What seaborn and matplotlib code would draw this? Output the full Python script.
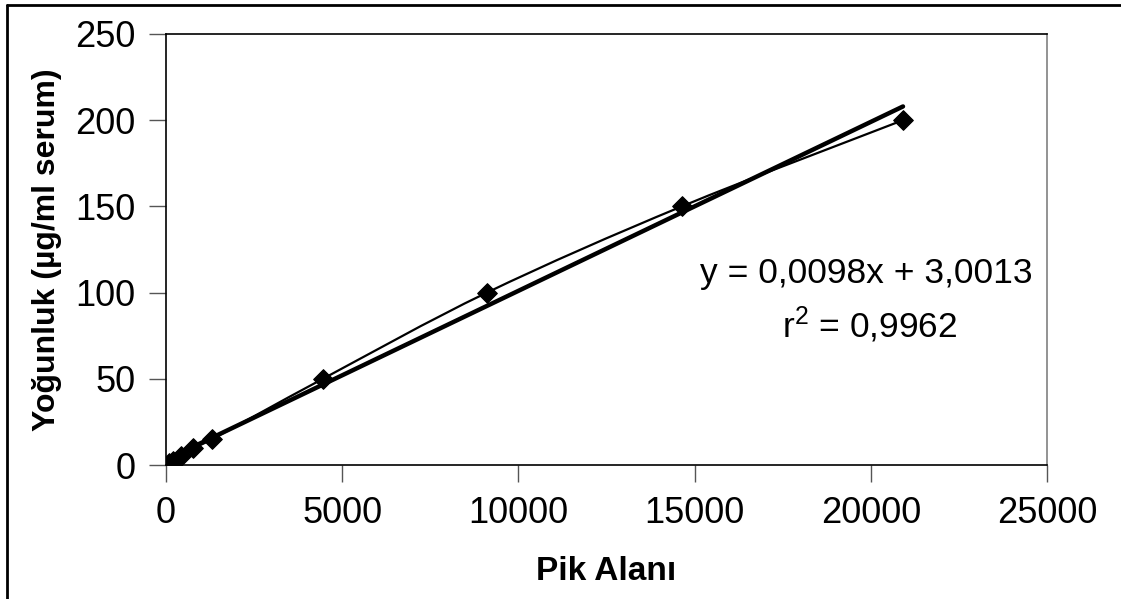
"""
Kalibrasyon egrisi - Pik Alani / Yogunluk
"""

import numpy as np
import pandas as pd
import matplotlib
matplotlib.use('Agg')
import matplotlib.pyplot as plt
from matplotlib.path import Path
from matplotlib.patches import PathPatch
from matplotlib.lines import Line2D
import seaborn as sns

# Veriler
pik_alani = [90, 200, 430, 760, 1310, 4455, 9110, 14640, 20914]
yogunluk = [1, 2.5, 5, 10, 15, 50, 100, 150, 200]
egim = 0.0098
kesisim = 3.0013
denklem = 'y = 0,0098x + 3,0013'
r2_metin = 'r$^2$ = 0,9962'
x_ticks = [0, 5000, 10000, 15000, 20000, 25000]
y_ticks = [0, 50, 100, 150, 200, 250]

sns.set_style('white')
plt.rcParams['font.family'] = ['Liberation Sans', 'DejaVu Sans']
plt.rcParams['mathtext.fontset'] = 'custom'
plt.rcParams['mathtext.rm'] = 'Liberation Sans'
plt.rcParams['mathtext.it'] = 'Liberation Sans'
plt.rcParams['text.color'] = 'black'
plt.rcParams['axes.labelcolor'] = 'black'

df = pd.DataFrame({'x': pik_alani, 'y': yogunluk})

fig = plt.figure(figsize=(11.21, 5.99), dpi=100)
ax = fig.add_axes([0.148, 0.2237, 0.786, 0.7196])

# yumusatilmis baglanti cizgisi (Excel tarzi bezier)
xs = np.array(pik_alani, dtype=float)
ys = np.array(yogunluk, dtype=float)
verts = [(xs[0], ys[0])]
codes = [Path.MOVETO]
n = len(xs)
for i in range(n - 1):
    x0, y0 = (xs[i - 1], ys[i - 1]) if i > 0 else (xs[i], ys[i])
    x3, y3 = (xs[i + 2], ys[i + 2]) if i + 2 < n else (xs[i + 1], ys[i + 1])
    c1 = (xs[i] + (xs[i + 1] - x0) / 6, ys[i] + (ys[i + 1] - y0) / 6)
    c2 = (xs[i + 1] - (x3 - xs[i]) / 6, ys[i + 1] - (y3 - ys[i]) / 6)
    verts += [c1, c2, (xs[i + 1], ys[i + 1])]
    codes += [Path.CURVE4, Path.CURVE4, Path.CURVE4]
ax.add_patch(PathPatch(Path(verts, codes), facecolor='none', edgecolor='black', lw=1.6, zorder=2))

# dogrusal trend
tx = np.array([min(pik_alani), max(pik_alani)])
sns.lineplot(x=tx, y=egim * tx + kesisim, color='black', linewidth=3.2, ax=ax, zorder=3)

sns.scatterplot(data=df, x='x', y='y', marker='D', s=100, color='black',
                edgecolor='black', ax=ax, zorder=4)

ax.set_xlim(0, 25000)
ax.set_ylim(0, 250)
ax.set_xticks(x_ticks)
ax.set_yticks(y_ticks)
ax.tick_params(axis='both', labelsize=26, direction='out', length=12, width=1,
               color='#555555', labelcolor='black')
ax.tick_params(axis='x', bottom=True, pad=10)
ax.tick_params(axis='y', left=True, pad=10)

ax.set_xlabel('Pik Alanı', fontsize=24, fontweight='bold')
ax.set_ylabel('Yoğunluk (µg/ml serum)', fontsize=23, fontweight='bold')
ax.xaxis.set_label_coords(0.5, -0.21)
ax.yaxis.set_label_coords(-0.118, 0.5)

for side in ['left', 'bottom', 'top']:
    ax.spines[side].set_color('black')
    ax.spines[side].set_linewidth(1.2)
ax.spines['right'].set_color('#808080')
ax.spines['right'].set_linewidth(1.2)

ax.text(0.984, 0.445, denklem, transform=ax.transAxes, fontsize=25.5, ha='right', va='center')
ax.text(0.899, 0.325, r2_metin, transform=ax.transAxes, fontsize=25.5, ha='right', va='center')

# dis cerceve
fig.add_artist(Line2D([0.0065, 0.0065], [0, 0.992], transform=fig.transFigure, color='black', lw=2))
fig.add_artist(Line2D([0.0065, 1], [0.992, 0.992], transform=fig.transFigure, color='black', lw=2))

fig.savefig('out.png', dpi=100)
plt.close()
